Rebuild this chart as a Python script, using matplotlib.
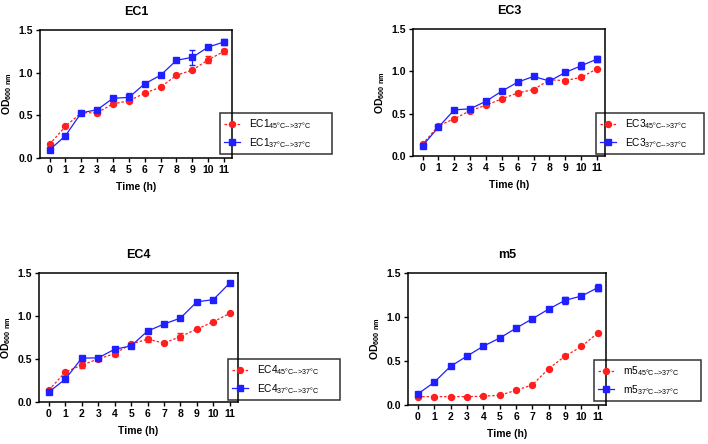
import matplotlib
matplotlib.use("Agg")
import matplotlib.pyplot as plt

plt.rcParams['font.family'] = ['Liberation Sans', 'DejaVu Sans']
plt.rcParams['mathtext.fontset'] = 'custom'
plt.rcParams['mathtext.rm'] = 'Liberation Sans'
plt.rcParams['mathtext.bf'] = 'Liberation Sans:bold'

hours = list(range(12))
xticks = [str(h) for h in hours]
yticks = [0.0, 0.5, 1.0, 1.5]

strains = ["EC1", "EC3", "EC4", "m5"]

# OD600 readings, heat-shocked (45->37) and control (37->37)
ec1_45 = [0.16, 0.37, 0.53, 0.53, 0.635, 0.67, 0.76, 0.83, 0.97, 1.03, 1.15, 1.25]
ec1_37 = [0.095, 0.26, 0.53, 0.565, 0.70, 0.71, 0.87, 0.97, 1.145, 1.18, 1.30, 1.36]
ec1_45_err = [0.01, 0.01, 0.01, 0.03, 0.01, 0.01, 0.01, 0.01, 0.01, 0.01, 0.04, 0.03]
ec1_37_err = [0.01, 0.01, 0.01, 0.01, 0.01, 0.05, 0.02, 0.01, 0.01, 0.09, 0.01, 0.04]

ec3_45 = [0.14, 0.355, 0.44, 0.535, 0.60, 0.675, 0.745, 0.785, 0.90, 0.89, 0.93, 1.03]
ec3_37 = [0.12, 0.34, 0.545, 0.557, 0.647, 0.766, 0.872, 0.94, 0.885, 0.987, 1.066, 1.145]
ec3_45_err = [0.01, 0.01, 0.01, 0.01, 0.01, 0.01, 0.02, 0.02, 0.02, 0.02, 0.01, 0.01]
ec3_37_err = [0.01, 0.01, 0.01, 0.01, 0.01, 0.01, 0.01, 0.01, 0.01, 0.02, 0.04, 0.04]

ec4_45 = [0.14, 0.347, 0.43, 0.50, 0.563, 0.675, 0.73, 0.686, 0.76, 0.848, 0.933, 1.03]
ec4_37 = [0.116, 0.266, 0.51, 0.513, 0.613, 0.652, 0.825, 0.906, 0.976, 1.165, 1.19, 1.384]
ec4_45_err = [0.01, 0.01, 0.04, 0.01, 0.03, 0.01, 0.03, 0.01, 0.04, 0.01, 0.01, 0.01]
ec4_37_err = [0.01, 0.01, 0.01, 0.01, 0.01, 0.01, 0.01, 0.01, 0.01, 0.01, 0.01, 0.01]

m5_45 = [0.095, 0.095, 0.095, 0.095, 0.10, 0.11, 0.167, 0.228, 0.414, 0.555, 0.665, 0.82]
m5_37 = [0.125, 0.258, 0.44, 0.555, 0.668, 0.76, 0.873, 0.98, 1.09, 1.19, 1.238, 1.333]
m5_45_err = [0.01] * 12
m5_37_err = [0.01, 0.01, 0.01, 0.01, 0.01, 0.01, 0.01, 0.01, 0.01, 0.04, 0.01, 0.04]

series = {
    "EC1": (ec1_45, ec1_45_err, ec1_37, ec1_37_err),
    "EC3": (ec3_45, ec3_45_err, ec3_37, ec3_37_err),
    "EC4": (ec4_45, ec4_45_err, ec4_37, ec4_37_err),
    "m5": (m5_45, m5_45_err, m5_37, m5_37_err),
}

W, H = 708, 444
# axes box in pixels: left, top, right, bottom
boxes = {
    "EC1": (40, 30, 232, 158),
    "EC3": (413, 29, 605, 156),
    "EC4": (39, 273, 238, 402),
    "m5": (408, 273, 606, 405),
}
# legend box in pixels: left, top, right
legend_box = {
    "EC1": (220, 113, 332),
    "EC3": (596, 113, 704),
    "EC4": (228, 359, 340),
    "m5": (594, 360, 701),
}

RED = '#ff1f1f'
BLUE = '#1f1fff'

fig = plt.figure(figsize=(W / 100, H / 100), dpi=100)

for name in strains:
    l, t, r, b = boxes[name]
    ax = fig.add_axes([l / W, 1 - b / H, (r - l) / W, (b - t) / H])
    y45, e45, y37, e37 = series[name]
    ax.errorbar(hours, y45, yerr=e45, fmt='none', ecolor=RED, elinewidth=0.9, capsize=2)
    ax.errorbar(hours, y37, yerr=e37, fmt='none', ecolor=BLUE, elinewidth=0.9, capsize=2)
    ax.plot(hours, y45, color=RED, ls=(0, (2, 1.5)), lw=0.9, marker='o', ms=4.3,
            label=name + r"$_{\text{45°C-->37°C}}$")
    ax.plot(hours, y37, color=BLUE, ls='-', lw=0.9, marker='s', ms=4.3,
            label=name + r"$_{\text{37°C-->37°C}}$")
    ax.set_xlim(-0.6, 11.5)
    ax.set_ylim(0, 1.5)
    ax.set_xticks(hours)
    ax.set_xticklabels(xticks)
    ax.set_yticks(yticks)
    ax.set_yticklabels([f"{v:.1f}" for v in yticks])
    ax.tick_params(direction='out', length=3, width=1, labelsize=7.5, pad=2)
    for lab in ax.get_xticklabels() + ax.get_yticklabels():
        lab.set_fontweight('bold')
    for sp in ax.spines.values():
        sp.set_linewidth(1.1)
    ax.set_title(name, fontsize=9, fontweight='bold', pad=11)
    ax.set_xlabel("Time (h)", fontsize=7.5, fontweight='bold', labelpad=5)
    ax.set_ylabel(r"OD$_{\mathbf{600\ nm}}$", fontsize=7.5, fontweight='bold', labelpad=3)
    lx, ly, rx = legend_box[name]
    leg = ax.legend(loc='upper left', mode='expand',
                    bbox_to_anchor=(lx / W, 1 - ly / H, (rx - lx) / W, 0.0),
                    bbox_transform=fig.transFigure, fontsize=7.3, frameon=True,
                    fancybox=False, borderpad=0.4, handlelength=1.6,
                    handletextpad=0.9, labelspacing=0.5, borderaxespad=0)
    leg.get_frame().set_edgecolor('black')
    leg.get_frame().set_linewidth(1.1)
    leg.get_frame().set_facecolor('none')

fig.savefig("out.png", dpi=100)
